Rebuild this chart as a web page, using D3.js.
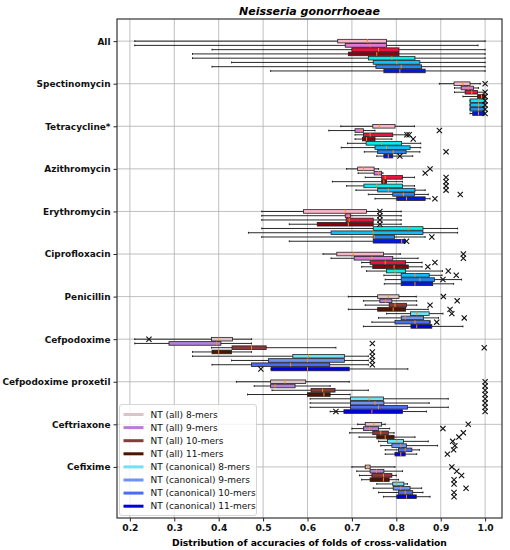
<!DOCTYPE html>
<html>
<head>
<meta charset="utf-8">
<script src="https://cdn.jsdelivr.net/npm/d3@7"></script>
<style>
  body { margin: 0; background: #fff; }
  svg text { font-family: "DejaVu Sans", sans-serif; }
</style>
</head>
<body>
<div id="chart"></div>
<script>
// Categories (top to bottom) and the 8 k-mer series drawn inside each one
const categories = ["All", "Spectinomycin", "Tetracycline*", "Azithromycin", "Erythromycin",
    "Ciprofloxacin", "Penicillin", "Cefpodoxime", "Cefpodoxime proxetil", "Ceftriaxone", "Cefixime"];
const seriesNames = ["NT (all) 8-mers", "NT (all) 9-mers", "NT (all) 10-mers", "NT (all) 11-mers",
    "NT (canonical) 8-mers", "NT (canonical) 9-mers", "NT (canonical) 10-mers", "NT (canonical) 11-mers"];
const xTicks = [0.2, 0.3, 0.4, 0.5, 0.6, 0.7, 0.8, 0.9, 1.0];

// Box statistics, one row per category, one value per series
const mins = [
    [0.211, 0.211, 0.385, 0.341, 0.341, 0.429, 0.385, 0.517],
    [0.897, 0.931, 0.931, 0.950, 0.966, 0.966, 0.966, 0.966],
    [0.675, 0.648, 0.707, 0.707, 0.690, 0.676, 0.728, 0.756],
    [0.688, 0.714, 0.730, 0.656, 0.688, 0.709, 0.737, 0.752],
    [0.497, 0.497, 0.497, 0.559, 0.497, 0.467, 0.497, 0.559],
    [0.635, 0.653, 0.722, 0.722, 0.733, 0.772, 0.775, 0.773],
    [0.692, 0.726, 0.730, 0.692, 0.778, 0.760, 0.745, 0.726],
    [0.211, 0.211, 0.384, 0.341, 0.341, 0.429, 0.385, 0.518],
    [0.440, 0.480, 0.520, 0.465, 0.606, 0.606, 0.606, 0.651],
    [0.713, 0.700, 0.695, 0.716, 0.760, 0.765, 0.775, 0.775],
    [0.700, 0.711, 0.717, 0.722, 0.756, 0.748, 0.760, 0.771]
];
const q1s = [
    [0.668, 0.685, 0.700, 0.692, 0.737, 0.748, 0.754, 0.772],
    [0.930, 0.946, 0.955, 0.983, 0.966, 0.966, 0.966, 0.972],
    [0.747, 0.707, 0.726, 0.724, 0.732, 0.752, 0.758, 0.772],
    [0.713, 0.750, 0.767, 0.767, 0.727, 0.758, 0.792, 0.801],
    [0.591, 0.685, 0.687, 0.622, 0.748, 0.653, 0.748, 0.748],
    [0.666, 0.705, 0.741, 0.747, 0.778, 0.811, 0.811, 0.811],
    [0.758, 0.763, 0.784, 0.758, 0.832, 0.811, 0.797, 0.833],
    [0.384, 0.288, 0.430, 0.385, 0.567, 0.512, 0.474, 0.518],
    [0.517, 0.517, 0.608, 0.600, 0.697, 0.697, 0.697, 0.682],
    [0.730, 0.726, 0.747, 0.756, 0.780, 0.790, 0.805, 0.797],
    [0.730, 0.741, 0.745, 0.741, 0.792, 0.793, 0.805, 0.801]
];
const medians = [
    [0.735, 0.741, 0.760, 0.756, 0.790, 0.801, 0.811, 0.808],
    [0.950, 0.962, 0.970, 0.992, 0.985, 0.985, 0.985, 0.985],
    [0.762, 0.720, 0.741, 0.733, 0.767, 0.778, 0.793, 0.782],
    [0.726, 0.760, 0.775, 0.772, 0.756, 0.782, 0.816, 0.823],
    [0.685, 0.692, 0.694, 0.692, 0.827, 0.748, 0.750, 0.812],
    [0.703, 0.745, 0.775, 0.795, 0.797, 0.842, 0.853, 0.842],
    [0.782, 0.776, 0.797, 0.793, 0.846, 0.820, 0.842, 0.846],
    [0.400, 0.395, 0.474, 0.400, 0.602, 0.600, 0.562, 0.600],
    [0.549, 0.527, 0.634, 0.637, 0.739, 0.752, 0.760, 0.745],
    [0.749, 0.740, 0.765, 0.775, 0.801, 0.810, 0.820, 0.810],
    [0.736, 0.755, 0.771, 0.771, 0.800, 0.810, 0.820, 0.823]
];
const q3s = [
    [0.778, 0.778, 0.806, 0.806, 0.842, 0.853, 0.857, 0.865],
    [0.966, 0.974, 0.983, 1.000, 1.000, 1.000, 0.998, 0.998],
    [0.797, 0.726, 0.792, 0.752, 0.812, 0.831, 0.822, 0.792],
    [0.750, 0.767, 0.814, 0.778, 0.814, 0.842, 0.841, 0.865],
    [0.733, 0.697, 0.748, 0.748, 0.860, 0.860, 0.796, 0.820],
    [0.771, 0.792, 0.821, 0.827, 0.821, 0.874, 0.886, 0.882],
    [0.806, 0.790, 0.823, 0.821, 0.874, 0.861, 0.876, 0.880],
    [0.431, 0.405, 0.507, 0.429, 0.683, 0.683, 0.650, 0.694],
    [0.596, 0.572, 0.662, 0.651, 0.771, 0.772, 0.825, 0.814],
    [0.767, 0.760, 0.782, 0.795, 0.816, 0.823, 0.835, 0.820],
    [0.741, 0.772, 0.790, 0.784, 0.817, 0.831, 0.837, 0.845]
];
const maxs = [
    [1.000, 0.984, 1.000, 1.000, 1.000, 1.000, 1.000, 1.000],
    [0.989, 0.985, 1.000, 1.000, 1.000, 1.000, 1.000, 1.000],
    [0.841, 0.752, 0.820, 0.790, 0.855, 0.855, 0.853, 0.837],
    [0.760, 0.770, 0.841, 0.814, 0.841, 0.865, 0.872, 0.876],
    [0.811, 0.811, 0.811, 0.811, 0.938, 0.938, 0.865, 0.820],
    [0.809, 0.849, 0.858, 0.858, 0.904, 0.903, 0.947, 0.929],
    [0.845, 0.846, 0.846, 0.872, 0.905, 0.895, 0.876, 0.950],
    [0.474, 0.474, 0.664, 0.474, 0.737, 0.737, 0.737, 0.826],
    [0.694, 0.651, 0.737, 0.696, 0.917, 0.874, 0.917, 0.868],
    [0.775, 0.785, 0.795, 0.842, 0.872, 0.893, 0.852, 0.846],
    [0.797, 0.814, 0.800, 0.805, 0.825, 0.857, 0.860, 0.876]
];
// Fliers per category and series
const outliers = [
    [[], [], [], [], [], [], [], []],
    [[1.0], [], [1.0], [1.0], [1.0], [1.0], [1.0], [1.0]],
    [[], [0.897], [0.824, 0.829], [0.838], [], [], [0.912], [0.808]],
    [[0.876], [0.865], [0.912], [0.912], [0.912], [0.912], [0.944], [0.887]],
    [[0.763], [0.763], [0.763], [0.763], [], [], [0.880], [0.823]],
    [[0.951], [0.951], [0.887], [0.871], [0.917], [0.935], [0.905], []],
    [[0.906], [0.937], [0.876], [0.921], [0.925], [0.953], [0.891], []],
    [[0.243], [0.746], [0.998], [0.746], [0.746], [0.746], [0.746], [0.495]],
    [[1.0], [1.0], [1.0], [1.0], [1.0], [1.0], [1.0], [1.0, 0.664]],
    [[0.962], [0.905], [0.951], [0.941], [0.927], [0.932], [0.929], [0.915]],
    [[0.925], [0.936], [0.947], [0.930], [0.930], [0.957], [0.930], [0.930]]
];

// Colours: the upper rows are drawn with a brighter set, the legend uses the muted set
const brightColors = ["#f7b6c8", "#e377d8", "#e8143c", "#8b0010", "#00eef0", "#10c0f5", "#2088f0", "#0018e0"];
const legendColors = ["#dcc3c8", "#b57ed9", "#8b3a3a", "#4d1400", "#6fe3f5", "#6e93f0", "#4b6ef0", "#0000e0"];

// Dimensions
const W = 510, H = 550;
const margin = { top: 19, right: 8, bottom: 32, left: 117 };
const plotRight = W - margin.right, plotBottom = H - margin.bottom;

const svg = d3.select("#chart")
    .append("svg")
    .attr("width", W)
    .attr("height", H);

// Scales: each category takes 10 units, series sit 1 unit apart
const x = d3.scaleLinear().domain([0.171, 1.038]).range([margin.left, plotRight]);
const y = d3.scaleLinear().domain([-5.2, 112]).range([margin.top, plotBottom]);
const catPos = categories.map((c, i) => i * 10);
const boxH = y(0.85) - y(0);
const capH = boxH / 2;

// Grid lines
svg.append("g")
    .selectAll("line.vgrid")
    .data(xTicks)
    .enter()
    .append("line")
    .attr("x1", d => x(d)).attr("x2", d => x(d))
    .attr("y1", margin.top).attr("y2", plotBottom)
    .attr("stroke", "#b0b0b0").attr("stroke-width", 0.8);

svg.append("g")
    .selectAll("line.hgrid")
    .data(catPos)
    .enter()
    .append("line")
    .attr("x1", margin.left).attr("x2", plotRight)
    .attr("y1", d => y(d)).attr("y2", d => y(d))
    .attr("stroke", "#b0b0b0").attr("stroke-width", 0.8);

// Flatten the statistics into one record per box
const boxes = [];
categories.forEach((cat, i) => {
    seriesNames.forEach((s, j) => {
        boxes.push({
            i, j, pos: i * 10 + j,
            min: mins[i][j], q1: q1s[i][j], med: medians[i][j], q3: q3s[i][j], max: maxs[i][j],
            fliers: outliers[i][j],
            color: (i < 6 ? brightColors : legendColors)[j]
        });
    });
});

// Boxes (patches sit under the lines, as in matplotlib)
svg.append("g")
    .selectAll("rect")
    .data(boxes)
    .enter()
    .append("rect")
    .attr("x", d => x(d.q1))
    .attr("width", d => Math.max(0.5, x(d.q3) - x(d.q1)))
    .attr("y", d => y(d.pos) - boxH / 2)
    .attr("height", boxH)
    .attr("fill", d => d.color)
    .attr("stroke", "#222")
    .attr("stroke-width", 0.8);

// Whiskers, caps and medians
const lines = svg.append("g");
boxes.forEach(d => {
    const cy = y(d.pos);
    lines.append("line")
        .attr("x1", x(d.min)).attr("x2", x(d.q1))
        .attr("y1", cy).attr("y2", cy)
        .attr("stroke", "#111").attr("stroke-width", 0.9);
    lines.append("line")
        .attr("x1", x(d.q3)).attr("x2", x(d.max))
        .attr("y1", cy).attr("y2", cy)
        .attr("stroke", "#111").attr("stroke-width", 0.9);
    [d.min, d.max].forEach(v => {
        lines.append("line")
            .attr("x1", x(v)).attr("x2", x(v))
            .attr("y1", cy - capH / 2).attr("y2", cy + capH / 2)
            .attr("stroke", "#111").attr("stroke-width", 0.9);
    });
    lines.append("line")
        .attr("x1", x(d.med)).attr("x2", x(d.med))
        .attr("y1", cy - boxH / 2).attr("y2", cy + boxH / 2)
        .attr("stroke", "#ff8c1a").attr("stroke-width", 1);
});

// Fliers drawn as x markers
const flierData = [];
boxes.forEach(d => d.fliers.forEach(v => flierData.push({ v, pos: d.pos })));
const mk = 2.6;
svg.append("g")
    .selectAll("path")
    .data(flierData)
    .enter()
    .append("path")
    .attr("d", d => {
        const cx = x(d.v), cy = y(d.pos);
        return `M${cx - mk},${cy - mk}L${cx + mk},${cy + mk}M${cx - mk},${cy + mk}L${cx + mk},${cy - mk}`;
    })
    .attr("stroke", "#111")
    .attr("stroke-width", 1.1)
    .attr("fill", "none");

// Axes
const xAxis = svg.append("g")
    .attr("transform", `translate(0, ${plotBottom})`)
    .call(d3.axisBottom(x).tickValues(xTicks).tickFormat(d3.format(".1f")).tickSize(3.5).tickPadding(2.5));

const yAxis = svg.append("g")
    .attr("transform", `translate(${margin.left}, 0)`)
    .call(d3.axisLeft(y).tickValues(catPos).tickFormat((d, i) => categories[i]).tickSize(3.5).tickPadding(3));

[xAxis, yAxis].forEach(a => {
    a.select(".domain").remove();
    a.selectAll(".tick line").attr("stroke", "#222");
    a.selectAll("text")
        .attr("fill", "#111")
        .style("font-family", "DejaVu Sans, sans-serif")
        .style("font-weight", "bold")
        .style("font-size", "9.2px");
});
yAxis.selectAll("text").style("font-size", "8.95px");

// Frame
svg.append("rect")
    .attr("x", margin.left).attr("y", margin.top)
    .attr("width", plotRight - margin.left)
    .attr("height", plotBottom - margin.top)
    .attr("fill", "none")
    .attr("stroke", "#333")
    .attr("stroke-width", 1.2);

// Title and x label
svg.append("text")
    .attr("x", (margin.left + plotRight) / 2)
    .attr("y", 15)
    .attr("text-anchor", "middle")
    .style("font-weight", "bold")
    .style("font-style", "italic")
    .style("font-size", "11px")
    .text("Neisseria gonorrhoeae");

svg.append("text")
    .attr("x", (margin.left + plotRight) / 2)
    .attr("y", 545.5)
    .attr("text-anchor", "middle")
    .style("font-weight", "bold")
    .style("font-size", "9.2px")
    .text("Distribution of accuracies of folds of cross-validation");

// Legend
const legend = svg.append("g")
    .attr("transform", "translate(119.5, 404.5)");

legend.append("rect")
    .attr("width", 137)
    .attr("height", 111)
    .attr("rx", 2.5)
    .attr("fill", "#fff")
    .attr("fill-opacity", 0.8)
    .attr("stroke", "#cccccc")
    .attr("stroke-width", 0.8);

seriesNames.forEach((name, j) => {
    const ly = 10 + j * 13.1;
    legend.append("line")
        .attr("x1", 4).attr("x2", 24)
        .attr("y1", ly).attr("y2", ly)
        .attr("stroke", legendColors[j])
        .attr("stroke-width", 3);
    legend.append("text")
        .attr("x", 31)
        .attr("y", ly)
        .attr("dominant-baseline", "central")
        .style("font-size", "9px")
        .attr("fill", "#111")
        .text(name);
});
</script>
</body>
</html>
